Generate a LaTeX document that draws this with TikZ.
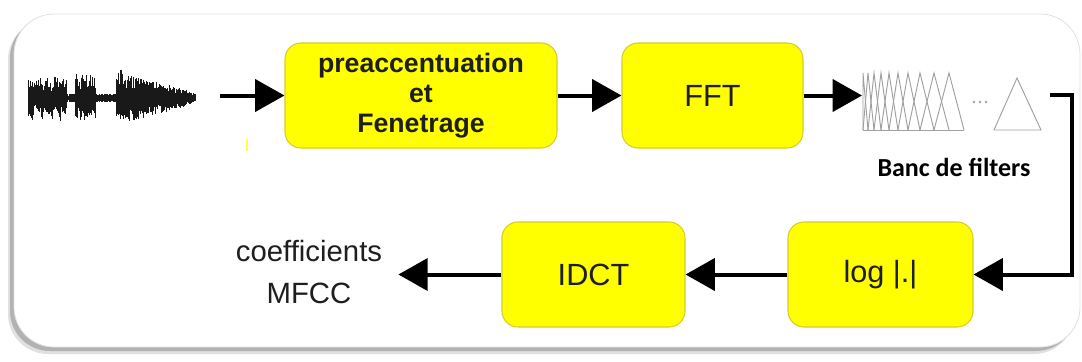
\documentclass[tikz,border=0pt]{standalone}
\usepackage{fontspec}
\setmainfont{Liberation Sans}
\newfontfamily\labelfont{Carlito}
\usetikzlibrary{arrows.meta,calc}

\definecolor{boxyellow}{RGB}{255,255,0}
\definecolor{boxedge}{RGB}{215,205,40}
\definecolor{inkdark}{RGB}{30,30,30}
\definecolor{bankgray}{RGB}{160,160,160}

\tikzset{
  stage/.style={draw=boxedge, line width=0.8pt, fill=boxyellow,
    rounded corners=12pt, inner sep=0pt, text=inkdark,
    minimum height=78.75pt, font=\fontsize{23}{27}\selectfont},
  flow/.style={line width=3pt, draw=black,
    -{Triangle[length=22pt,width=24pt]}},
  wire/.style={line width=3pt, draw=black},
  wave/.style={line width=0.6pt, draw=black!90},
  tri/.style={line width=0.7pt, draw=bankgray, line join=miter},
}

\begin{document}
\begin{tikzpicture}[x=0.75pt, y=-0.75pt]
\useasboundingbox (0,0) rectangle (1082,361);

% outer panel with its soft shadow
\fill[black!12, rounded corners=30pt] (8,20) rectangle (1074,354);
\fill[black!30, rounded corners=30pt] (10,18) rectangle (1076,351);
\filldraw[fill=white, draw=black!12, line width=0.6pt, rounded corners=30pt]
  (14,14) rectangle (1080,347);

% speech waveform
\pgfmathsetseed{11}
\foreach \x in {28,28.5,...,66} {
  \pgfmathsetmacro\a{(20+5*sin(\x*40))*(0.3+0.7*rnd)}
  \pgfmathsetmacro\b{(20+5*cos(\x*35))*(0.3+0.7*rnd)}
  \draw[wave] (\x,98-\a) -- (\x,98+\b);
}
\foreach \x in {66,66.5,...,75} {
  \pgfmathsetmacro\a{2+3*rnd}
  \draw[wave] (\x,98-\a) -- (\x,98+\a);
}
\foreach \x in {75,75.5,...,95} {
  \pgfmathsetmacro\a{24*(0.3+0.7*rnd)}
  \pgfmathsetmacro\b{22*(0.3+0.7*rnd)}
  \draw[wave] (\x,98-\a) -- (\x,98+\b);
}
\foreach \x in {95,95.5,...,116} {
  \pgfmathsetmacro\a{2+2.5*rnd}
  \draw[wave] (\x,98-\a) -- (\x,98+\a);
}
\foreach \x in {116,116.5,...,195} {
  \pgfmathsetmacro\e{3+22*(1-(\x-116)/79)^0.8}
  \pgfmathsetmacro\a{\e*(0.35+0.65*rnd)+1}
  \pgfmathsetmacro\b{\e*(0.35+0.65*rnd)+1}
  \draw[wave] (\x,98-\a) -- (\x,98+\b);
}
\draw[wave, line width=1pt] (121,98) -- (121,70);

\coordinate (wavend) at (220,95.5);

% small yellow mark under the first arrow
\draw[boxyellow!70!white, line width=2pt] (247,139) -- (247,151);

% processing stages
\node[stage, minimum width=204pt, font=\bfseries\fontsize{20}{22.5}\selectfont,
  align=center] (pre) at (421,95.5) {preaccentuation\\et\\Fenetrage};
\node[stage, minimum width=135.75pt] (fft) at (712.5,95.5) {FFT};
\node[stage, minimum width=138.75pt] (logm) at (880.5,274.5) {log |.|};
\node[stage, minimum width=137.25pt] (idct) at (593.5,274.5) {IDCT};

% triangular filter bank
\coordinate (bankin) at (862,95.5);
\coordinate (bankout) at (1050,95);
\foreach \l/\m/\r in {863/863/868, 863/868/874, 868/874/881, 874/881/889,
  881/889/898, 889/898/908, 898/908/920, 908/920/934, 920/934/949,
  934/949/964} {
  \draw[tri] (\l,130) -- (\m,73) -- (\r,130);
}
\draw[tri] (863,130) -- (964,130);
\draw[tri] (994,130) -- (1017,78) -- (1041,130) -- cycle;
\foreach \x in {974,980,986} \fill[bankgray] (\x,102) circle (1pt);

\node[font=\labelfont\bfseries\fontsize{19.5}{22}\selectfont, text=black]
  (banklabel) at (954,167) {Banc de filters};

% output label
\node[align=center, text=inkdark, font=\fontsize{22}{31.5}\selectfont,
  inner sep=0pt] (coef) at (309,272) {coefficients\\MFCC};

% connectors
\draw[flow] (wavend) -- (pre.west);
\draw[flow] (pre.east) -- (fft.west);
\draw[flow] (fft.east) -- (bankin);
\draw[wire] (bankout) -- (1072,95) -- (1072,274.5) coordinate (turn);
\draw[flow] ($(turn)+(1.5,0)$) -- (logm.east);
\draw[flow] (logm.west) -- (idct.east);
\draw[flow] (idct.west) -- ([xshift=12pt]coef.east |- idct.west);
\end{tikzpicture}
\end{document}
